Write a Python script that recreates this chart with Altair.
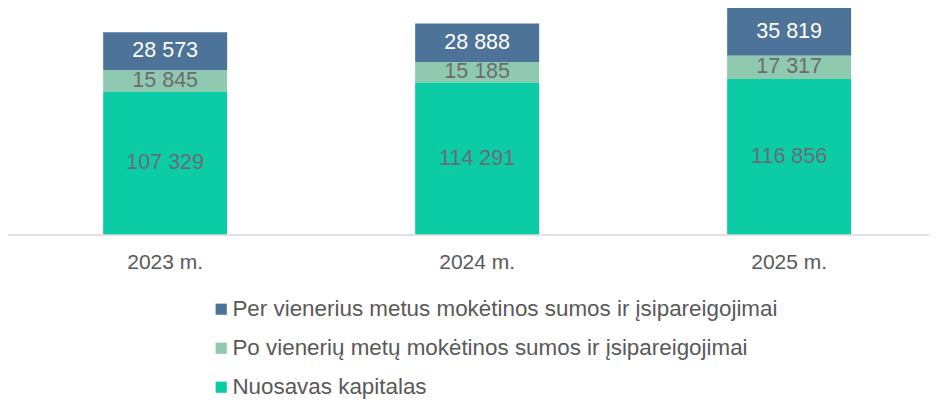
import altair as alt
import pandas as pd

years = ["2023 m.", "2024 m.", "2025 m."]
series = [
    "Per vienerius metus mokėtinos sumos ir įsipareigojimai",
    "Po vienerių metų mokėtinos sumos ir įsipareigojimai",
    "Nuosavas kapitalas",
]
per_vienerius = [28573, 28888, 35819]
po_vieneriu = [15845, 15185, 17317]
nuosavas = [107329, 114291, 116856]
colors = ["#4e7399", "#8fc9b0", "#0bcca5"]
label_colors = ["#ffffff", "#6b6b72", "#6b6b78"]
stack_order = [3, 2, 1]

rows = []
for s_idx, (name, vals) in enumerate(zip(series, [per_vienerius, po_vieneriu, nuosavas])):
    for y, v in zip(years, vals):
        rows.append({
            "year": y,
            "series": name,
            "value": v,
            "order": stack_order[s_idx],
            "label": f"{v:,}".replace(",", " "),
            "lcolor": label_colors[s_idx],
        })
df = pd.DataFrame(rows)

W, H = 921, 227
font = "Liberation Sans"

base = alt.Chart(df).transform_stack(
    stack="value", groupby=["year"], as_=["v0", "v1"],
    sort=[alt.SortField("order", order="ascending")],
).transform_calculate(mid="(datum.v0 + datum.v1) / 2")

xenc = alt.X("year:N", sort=years, title=None,
             scale=alt.Scale(paddingInner=0.6026, paddingOuter=0.2773, align=0.55),
             axis=alt.Axis(domain=False, ticks=False, labelAngle=0,
                           labelFontSize=21, labelFont=font, labelColor="#595959",
                           labelPadding=16))
yscale = alt.Scale(domain=[0, 170000], nice=False)

bars = base.mark_bar().encode(
    x=xenc,
    y=alt.Y("v0:Q", scale=yscale, axis=None),
    y2="v1:Q",
    color=alt.Color("series:N", scale=alt.Scale(domain=series, range=colors),
                    legend=alt.Legend(title=None, orient="none", legendX=202, legendY=290,
                                      padding=0, offset=0,
                                      direction="vertical", symbolType="square",
                                      symbolSize=125, symbolStrokeWidth=0,
                                      labelFontSize=22.4, labelFont=font,
                                      labelColor="#595959", labelLimit=900,
                                      rowPadding=16, symbolOffset=0, labelOffset=0)),
)

labels = base.mark_text(fontSize=21.5, font=font, baseline="middle").encode(
    x=alt.X("year:N", sort=years),
    y=alt.Y("mid:Q", scale=yscale),
    text="label:N",
    color=alt.Color("lcolor:N", scale=None, legend=None),
)

axis_line = alt.Chart(pd.DataFrame({"v": [0]})).mark_rule(color="#d9d9d9", strokeWidth=1.5).encode(
    y=alt.Y("v:Q", scale=yscale),
    x=alt.value(0),
    x2=alt.value(W),
)

chart = alt.layer(bars, labels, axis_line).properties(
    width=W, height=H,
    autosize=alt.AutoSizeParams(type="none"),
    padding={"left": 0, "top": 0, "right": 0, "bottom": 165},
).configure_view(stroke=None)

chart.save("out.html", embed_options={"renderer": "svg", "actions": False})
